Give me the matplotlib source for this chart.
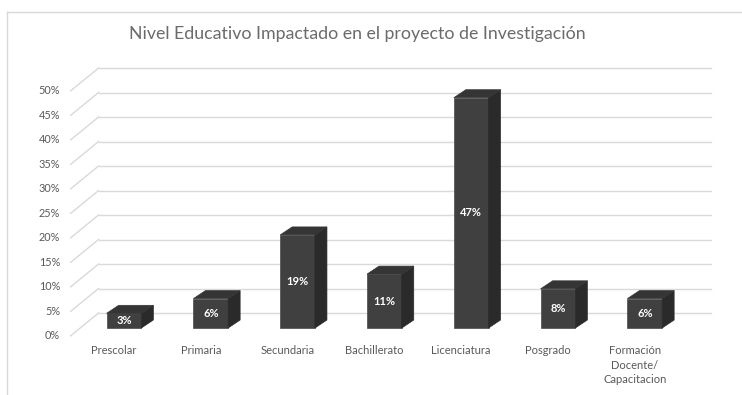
"""
Nivel educativo impactado - columnas pseudo 3D
"""
import matplotlib.pyplot as plt
from matplotlib.patches import Polygon
from matplotlib.lines import Line2D

categories = ['Prescolar', 'Primaria', 'Secundaria', 'Bachillerato',
              'Licenciatura', 'Posgrado', 'Formación\nDocente/\nCapacitacion']
values = [3, 6, 19, 11, 47, 8, 6]
value_labels = ['3%', '6%', '19%', '11%', '47%', '8%', '6%']
y_ticks = [0, 5, 10, 15, 20, 25, 30, 35, 40, 45, 50]
y_tick_labels = [f'{t}%' for t in y_ticks]
title = 'Nivel Educativo Impactado en el proyecto de Investigación'

plt.rcParams['font.family'] = ['Lato', 'DejaVu Sans']

W, H = 742, 395
fig = plt.figure(figsize=(W / 100, H / 100), dpi=100)
ax = fig.add_axes([80.6 / W, 67 / H, 607.6 / W, 245 / H])
ax.set_xlim(-0.5, len(categories) - 0.5)
ax.set_ylim(0, 50)
ax.axis('off')

GRID = '#d9d9d9'
TXT = '#595959'
# offsets in data units (category, percent)
BAR_W = 0.40
DEPTH_X, DEPTH_Y = 0.138, 1.63      # bar depth
FRONT_X, FRONT_Y = -0.115, -1.6     # axis label plane
BACK_X, BACK_Y = 0.207, 3.06        # back wall

# back wall gridlines and left wall
for t in y_ticks:
    ax.plot([-0.5 + BACK_X, 6.55 + BACK_X], [t + BACK_Y, t + BACK_Y],
            color=GRID, lw=1, clip_on=False, zorder=1)
    ax.plot([-0.5 + FRONT_X, -0.5 + BACK_X], [t + FRONT_Y, t + BACK_Y],
            color=GRID, lw=1, clip_on=False, zorder=1)

for t, lab in zip(y_ticks, y_tick_labels):
    ax.text(-0.735, t + FRONT_Y, lab, ha='right', va='center',
            fontsize=7.8, color=TXT, clip_on=False)

# bars
for i, (v, lab) in enumerate(zip(values, value_labels)):
    x0, x1 = i - BAR_W / 2, i + BAR_W / 2
    front = Polygon([(x0, 0), (x1, 0), (x1, v), (x0, v)], closed=True,
                    facecolor='#404040', edgecolor='#4a4a4a', lw=0.5, zorder=3)
    side = Polygon([(x1, 0), (x1 + DEPTH_X, DEPTH_Y), (x1 + DEPTH_X, v + DEPTH_Y),
                    (x1, v)], closed=True, facecolor='#2a2a2a',
                   edgecolor='#2a2a2a', lw=0.5, zorder=3)
    top = Polygon([(x0, v), (x1, v), (x1 + DEPTH_X, v + DEPTH_Y),
                   (x0 + DEPTH_X, v + DEPTH_Y)], closed=True,
                  facecolor='#353535', edgecolor='#353535', lw=0.5, zorder=3)
    for p in (front, side, top):
        p.set_clip_on(False)
        ax.add_patch(p)
    ax.text(i, v / 2, lab, ha='center', va='center', fontsize=8,
            fontweight='bold', color='white', zorder=4)

# category labels
for i, cat in enumerate(categories):
    ax.text(i + FRONT_X, -3.5, cat, ha='center', va='top', fontsize=8,
            color=TXT, linespacing=1.4, clip_on=False)

fig.text(357 / W, 1 - 34 / H, title, ha='center', va='center',
         fontsize=12.8, color='#6b6b6b')

# chart frame
fig.add_artist(Line2D([7 / W, 7 / W], [0, 1 - 12 / H], color=GRID, lw=1))
fig.add_artist(Line2D([7 / W, 1], [1 - 12 / H, 1 - 12 / H], color=GRID, lw=1))

fig.savefig('out.png', dpi=100)
